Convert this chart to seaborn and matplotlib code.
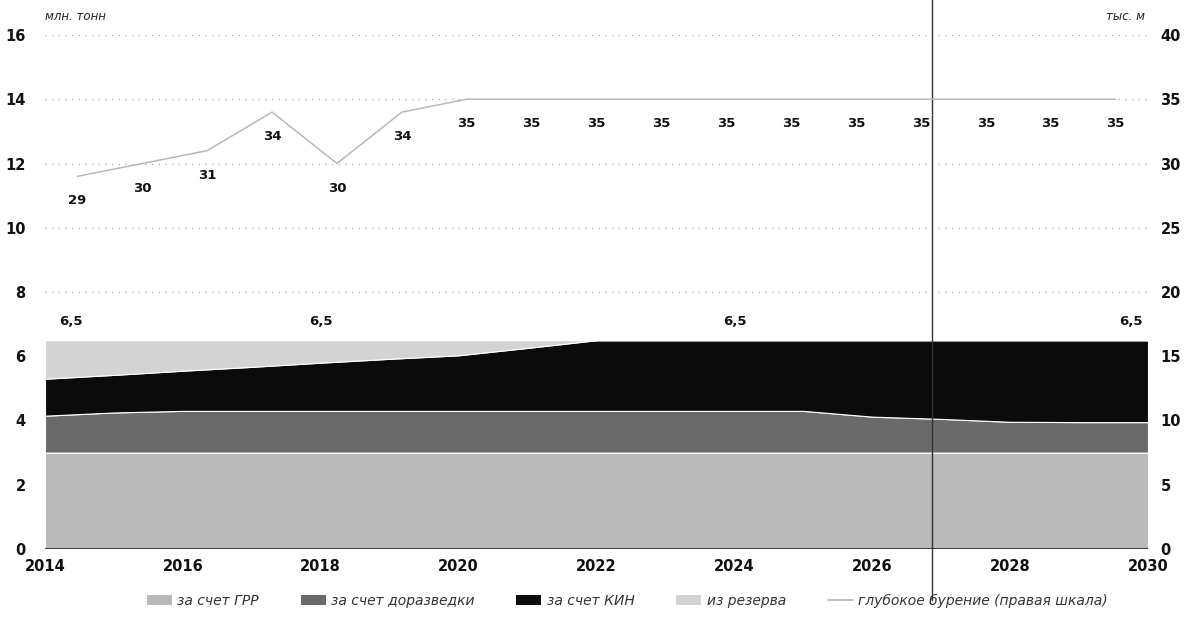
import numpy as np
import pandas as pd
import matplotlib
matplotlib.use("Agg")
import matplotlib.pyplot as plt
import seaborn as sns
from matplotlib.patches import Patch
from matplotlib.lines import Line2D

# ---- data ----
years = list(range(2014, 2031))
grr = [3.0] * 17
dorazv_top = [4.15, 4.25, 4.3, 4.3, 4.3, 4.3, 4.3, 4.3, 4.3, 4.3, 4.3, 4.3,
              4.12, 4.05, 3.96, 3.95, 3.95]
kin_top = [5.3, 5.42, 5.55, 5.67, 5.8, 5.92, 6.03, 6.26, 6.5, 6.5, 6.5, 6.5,
           6.5, 6.5, 6.5, 6.5, 6.5]
total = [6.5] * 17
dorazv = [t - g for t, g in zip(dorazv_top, grr)]
kin = [k - d for k, d in zip(kin_top, dorazv_top)]
reserve = [t - k for t, k in zip(total, kin_top)]

drilling = [29, 30, 31, 34, 30, 34, 35, 35, 35, 35, 35, 35, 35, 35, 35, 35, 35]

total_label_years = [2014, 2018, 2024, 2030]
xticks = list(range(2014, 2031, 2))
left_ticks = list(range(0, 17, 2))
right_ticks = list(range(0, 41, 5))

series_names = ["за счет ГРР", "за счет доразведки", "за счет КИН", "из резерва"]
line_name = "глубокое бурение (правая шкала)"
colors = ["#b9b9b9", "#6a6a6a", "#0b0b0b", "#d3d3d3"]
line_color = "#b8b8b8"

# ---- figure ----
sns.set_theme(style="white")
plt.rcParams["font.family"] = ["DejaVu Sans"]

fig = plt.figure(figsize=(11.84, 6.18), dpi=100)
ax = fig.add_axes([45 / 1184, 1 - 549 / 618, (1148 - 45) / 1184, (549 - 35) / 618])

for y in left_ticks[1:]:
    ax.axhline(y, color="#a5a5a5", lw=0.8, ls=(0, (1, 5)), zorder=0)

ax.stackplot(years, grr, dorazv, kin, reserve, colors=colors,
             edgecolor="white", linewidth=0.8, zorder=2)
ax.axhline(0, color="#222222", lw=1.2, zorder=3)

ax.set_xlim(2014, 2030)
ax.set_ylim(0, 16)
ax.set_xticks(xticks)
ax.set_xticklabels([str(x) for x in xticks], fontsize=10.5, fontweight="bold")
ax.set_yticks(left_ticks)
ax.set_yticklabels([str(v) for v in left_ticks], fontsize=10.5, fontweight="bold")
ax.tick_params(axis="x", length=0, pad=7, colors="#111111")
ax.tick_params(axis="y", length=0, pad=14, colors="#111111")
for s in ax.spines.values():
    s.set_visible(False)

# total labels
for yr in total_label_years:
    i = years.index(yr)
    ha = "left" if yr == years[0] else ("right" if yr == years[-1] else "center")
    off = 10 if ha == "left" else (-4 if ha == "right" else 0)
    ax.annotate(f"{total[i]:.1f}".replace(".", ","), (yr, total[i]),
                xytext=(off, 9), textcoords="offset points", ha=ha, va="bottom",
                fontsize=9.5, fontweight="bold", color="#111111")

# right axis: drilling line
ax2 = ax.twinx()
ax2.set_position(ax.get_position())
ax2.set_ylim(0, 40)
ax2.set_yticks(right_ticks)
ax2.set_yticklabels([str(v) for v in right_ticks], fontsize=10.5, fontweight="bold")
ax2.tick_params(axis="y", length=0, pad=9, colors="#111111")
for s in ax2.spines.values():
    s.set_visible(False)
ax2.grid(False)

n = len(years)
line_x = [years[0] + (i + 0.5) * (years[-1] - years[0]) / n for i in range(n)]
df_line = pd.DataFrame({"x": line_x, "v": drilling})
sns.lineplot(data=df_line, x="x", y="v", ax=ax2, color=line_color, lw=1.1, zorder=4)
ax2.set_xlim(2014, 2030)
ax2.set_xlabel("")
ax2.set_ylabel("")
ax.set_xlabel("")
for xv, v in zip(line_x, drilling):
    ax2.annotate(str(v), (xv, v), xytext=(0, -13), textcoords="offset points",
                 ha="center", va="top", fontsize=9.5, fontweight="bold", color="#111111")

# vertical marker line
ax.axvline(2026.87, ymin=-0.1, ymax=1.07, color="#333333", lw=1.0, clip_on=False, zorder=5)

# unit labels
fig.text(45 / 1184, 1 - 16 / 618, "млн. тонн", fontsize=8.5, style="italic",
         color="#222222", ha="left", va="center")
fig.text(1145 / 1184, 1 - 16 / 618, "тыс. м", fontsize=8.5, style="italic",
         color="#222222", ha="right", va="center")

# legend
handles = [Patch(facecolor=c, edgecolor="none") for c in colors]
handles.append(Line2D([0], [0], color=line_color, lw=1.2))
leg = fig.legend(handles, series_names + [line_name], loc="center",
                 bbox_to_anchor=(0.53, 1 - 601 / 618), ncol=5, frameon=False,
                 handlelength=1.8, handleheight=0.7, columnspacing=3.0,
                 handletextpad=0.4, prop={"style": "italic", "size": 10})
for t in leg.get_texts():
    t.set_color("#333333")

fig.savefig("out.png", dpi=100)
